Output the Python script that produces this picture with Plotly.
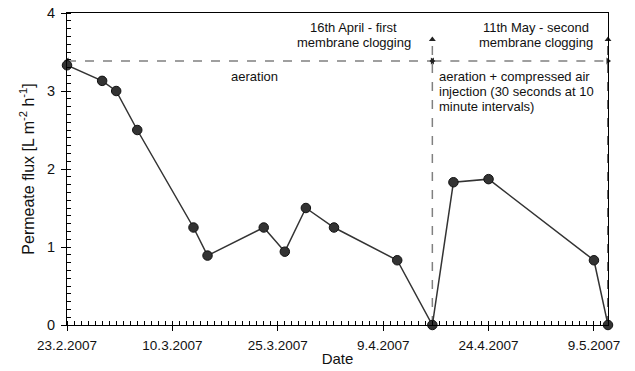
import plotly.graph_objects as go

dates = ["2007-02-23", "2007-02-28", "2007-03-02", "2007-03-05", "2007-03-13",
         "2007-03-15", "2007-03-23", "2007-03-26", "2007-03-29", "2007-04-02",
         "2007-04-11", "2007-04-16", "2007-04-19", "2007-04-24", "2007-05-09",
         "2007-05-11"]
flux = [3.33, 3.13, 3.0, 2.5, 1.25, 0.89, 1.25, 0.94, 1.5, 1.25,
        0.83, 0.0, 1.83, 1.87, 0.83, 0.0]

start_date = "2007-02-23"
clog1_date = "2007-04-16"
clog2_date = "2007-05-11"
arrow_level = 3.385
vline_top = 3.66

FONT = "Liberation Sans, Arial, sans-serif"
DAY_MS = 86400000
GREY = "#808080"
DARK = "#333333"

fig = go.Figure()

def dline(xs, ys, color):
    fig.add_trace(go.Scatter(x=xs, y=ys, mode="lines",
                             line=dict(color=color, width=1.5, dash="dash"),
                             hoverinfo="skip", showlegend=False, cliponaxis=False))

dline([start_date, clog1_date], [arrow_level, arrow_level], GREY)
dline([clog1_date, clog2_date], [arrow_level, arrow_level], GREY)
dline([clog1_date, clog1_date], [0, vline_top], GREY)
dline([clog2_date, clog2_date], [0, vline_top], DARK)

# arrowheads
def heads(xs, ys, symbol):
    fig.add_trace(go.Scatter(x=xs, y=ys, mode="markers",
                             marker=dict(symbol=symbol, size=6, color="#222222"),
                             hoverinfo="skip", showlegend=False, cliponaxis=False))

heads([start_date, clog1_date], [arrow_level, arrow_level], "triangle-left")
heads([clog1_date, clog2_date], [arrow_level, arrow_level], "triangle-right")
heads([clog1_date, clog2_date], [vline_top, vline_top], "triangle-up")

# data
fig.add_trace(go.Scatter(x=dates, y=flux, mode="lines+markers",
                         line=dict(color=DARK, width=1.5),
                         marker=dict(size=9.5, color=DARK, line=dict(color="#111111", width=1)),
                         showlegend=False, cliponaxis=False))

annos = []
def txt(x, y, s, xanchor="center"):
    annos.append(dict(x=x, y=y, xref="paper", yref="paper", text=s, showarrow=False,
                      xanchor=xanchor, yanchor="middle",
                      font=dict(family=FONT, size=13, color="#111111")))

txt(0.530, 0.955, "16th April - first")
txt(0.530, 0.904, "membrane clogging")
txt(0.866, 0.955, "11th May - second")
txt(0.866, 0.904, "membrane clogging")
txt(0.3475, 0.798, "aeration")
txt(0.684, 0.796, "aeration + compressed air", "left")
txt(0.684, 0.748, "injection (30 seconds at 10", "left")
txt(0.684, 0.699, "minute intervals)", "left")

fig.update_layout(
    width=635, height=371,
    margin=dict(l=67, r=27, t=13, b=46),
    paper_bgcolor="white", plot_bgcolor="white",
    font=dict(family=FONT, size=13, color="#111111"),
    annotations=annos,
    xaxis=dict(
        type="date", range=[start_date, clog2_date], automargin=False,
        tick0=start_date, dtick=15 * DAY_MS, tickformat="%-d.%-m.%Y",
        ticks="outside", ticklen=5, tickcolor="black", ticklabelstandoff=3,
        minor=dict(dtick=DAY_MS, tick0=start_date, ticks="inside", ticklen=4, tickcolor="black"),
        showline=True, linecolor="black", linewidth=1.2, mirror=True,
        showgrid=False, zeroline=False,
        tickfont=dict(size=13.5),
        title=dict(text="Date", font=dict(size=15), standoff=1),
    ),
    yaxis=dict(
        range=[0, 4], tickvals=[0, 1, 2, 3, 4], automargin=False,
        ticks="outside", ticklen=5, tickcolor="black", ticklabelstandoff=3,
        minor=dict(dtick=0.1, ticks="inside", ticklen=4, tickcolor="black"),
        showline=True, linecolor="black", linewidth=1.2, mirror=True,
        showgrid=False, zeroline=False,
        tickfont=dict(size=14.5),
        title=dict(text="Permeate flux [L m<sup>-2</sup> h<sup>-1</sup>]", font=dict(size=16), standoff=8),
    ),
)

fig.write_html("out.html")
